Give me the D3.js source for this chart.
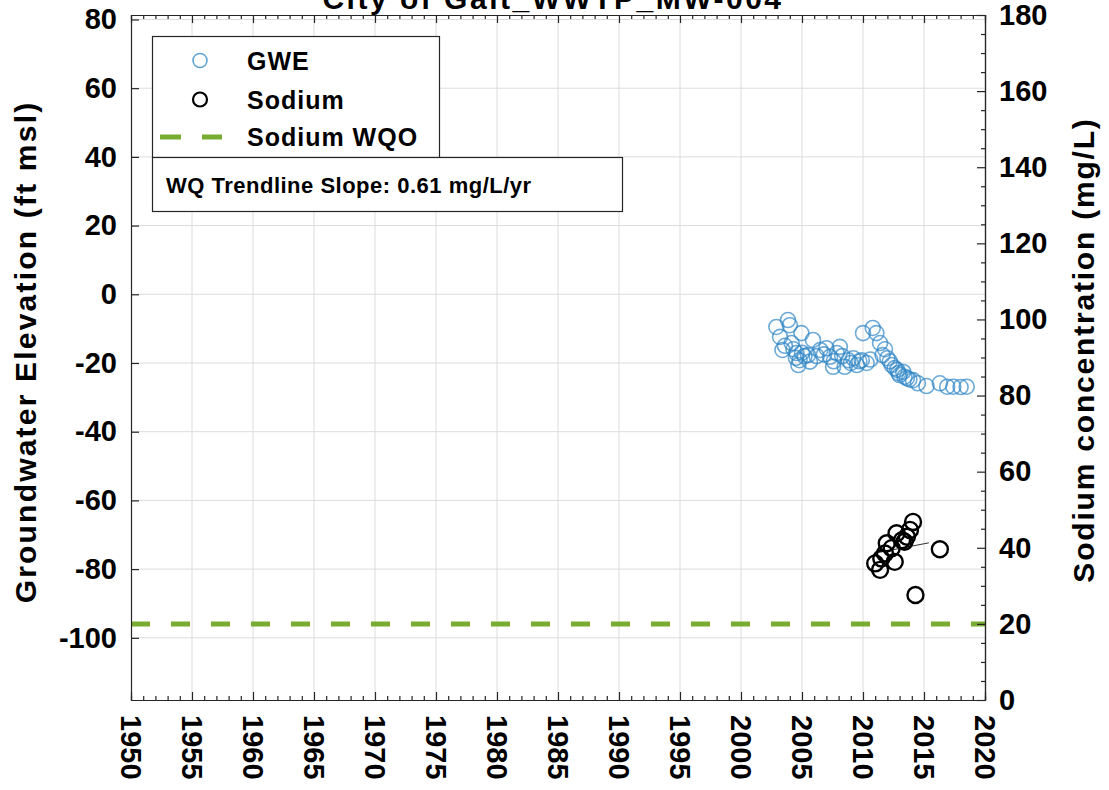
<!DOCTYPE html>
<html>
<head>
<meta charset="utf-8">
<script src="https://cdn.jsdelivr.net/npm/d3@7"></script>
<style>
  body { margin: 0; background: #fff; }
  svg { font-family: "Liberation Sans", Arial, sans-serif; font-weight: bold; }
</style>
</head>
<body>
<div id="chart"></div>
<script>
// GWE (ft msl): decimal year, elevation
const gweYears = [2002.9, 2003.2, 2003.4, 2003.6, 2003.85, 2004.0, 2004.15, 2004.3, 2004.5, 2004.55,
  2004.7, 2004.8, 2004.95, 2005.0, 2005.2, 2005.5, 2005.65, 2005.9, 2006.2, 2006.5,
  2006.8, 2007.0, 2007.3, 2007.55, 2007.6, 2007.85, 2008.1, 2008.3, 2008.5, 2008.8,
  2009.0, 2009.2, 2009.5, 2009.7, 2009.9, 2010.0, 2010.3, 2010.6, 2010.8, 2011.1,
  2011.4, 2011.6, 2011.8, 2012.0, 2012.2, 2012.35, 2012.6, 2012.8, 2012.9, 2013.0,
  2013.3, 2013.4, 2013.6, 2013.8, 2014.1, 2014.5, 2015.2, 2016.3, 2016.9, 2017.4,
  2018.0, 2018.5];
const gweValues = [-9.5, -12.4, -16.2, -15.0, -7.5, -9.0, -14.2, -16.0, -18.5, -17.1,
  -20.6, -19.2, -11.3, -17.0, -18.0, -17.7, -19.6, -13.3, -18.0, -16.2,
  -17.5, -15.7, -18.2, -21.1, -19.5, -17.1, -15.3, -18.0, -21.1, -19.2,
  -20.0, -18.6, -20.6, -19.5, -19.2, -11.3, -20.0, -19.0, -9.8, -11.3,
  -14.2, -17.7, -16.0, -18.6, -19.5, -20.6, -21.5, -22.0, -22.9, -23.5,
  -22.6, -24.0, -24.4, -24.8, -25.0, -25.9, -26.7, -25.9, -26.9, -26.9,
  -27.0, -26.9];

// Sodium (mg/L)
const naYears = [2011.0, 2011.4, 2011.5, 2011.8, 2011.95, 2012.35, 2012.6, 2012.75, 2013.2, 2013.4,
  2013.6, 2013.85, 2014.1, 2014.3, 2016.3];
const naValues = [35.9, 34.2, 37.2, 38.5, 41.2, 39.9, 36.3, 43.8, 42.0, 41.6,
  42.9, 44.7, 46.8, 27.6, 39.6];

const trendYears = [2011.0, 2015.4];
const trendValues = [38.6, 41.3];

const wqoValue = 20;

const xTicks = d3.range(1950, 2021, 5);
const leftTicks = d3.range(-100, 81, 20);
const rightTicks = d3.range(0, 181, 20);

const width = 1109, height = 790;
const plot = { left: 131, right: 985, top: 15, bottom: 700 };

const svg = d3.select("#chart").append("svg")
  .attr("width", width)
  .attr("height", height);

const x = d3.scaleLinear().domain([1950, 2020]).range([plot.left, plot.right]);
const yL = d3.scaleLinear().domain([-118.1, 81.3]).range([plot.bottom, plot.top]);
const yR = d3.scaleLinear().domain([0, 180]).range([plot.bottom, plot.top]);

// grid
const grid = svg.append("g").attr("stroke", "#dcdcdc").attr("stroke-width", 1);
grid.selectAll(".vg").data(xTicks.slice(1, -1)).join("line")
  .attr("x1", d => x(d)).attr("x2", d => x(d))
  .attr("y1", plot.top).attr("y2", plot.bottom);
grid.selectAll(".hg").data(leftTicks).join("line")
  .attr("x1", plot.left).attr("x2", plot.right)
  .attr("y1", d => yL(d)).attr("y2", d => yL(d));

// title, mostly cut off at the top edge like the source figure
svg.append("text")
  .attr("x", 553).attr("y", 9)
  .attr("text-anchor", "middle")
  .style("font-size", "30px")
  .style("letter-spacing", "2.5px")
  .text("City of Galt_WWTP_MW-004");

// WQO line
svg.append("line")
  .attr("x1", plot.left).attr("x2", plot.right)
  .attr("y1", yR(wqoValue)).attr("y2", yR(wqoValue))
  .attr("stroke", "#77ac30")
  .attr("stroke-width", 5)
  .attr("stroke-dasharray", "19,21");

// GWE points
svg.append("g").selectAll("circle")
  .data(gweYears.map((d, i) => [d, gweValues[i]]))
  .join("circle")
  .attr("cx", d => x(d[0]))
  .attr("cy", d => yL(d[1]))
  .attr("r", 7.5)
  .attr("fill", "none")
  .attr("stroke", "#2f86c6")
  .attr("stroke-opacity", 0.7)
  .attr("stroke-width", 1.6);

// sodium trendline
svg.append("line")
  .attr("x1", x(trendYears[0])).attr("x2", x(trendYears[1]))
  .attr("y1", yR(trendValues[0])).attr("y2", yR(trendValues[1]))
  .attr("stroke", "#333")
  .attr("stroke-width", 1);

// sodium points
svg.append("g").selectAll("circle")
  .data(naYears.map((d, i) => [d, naValues[i]]))
  .join("circle")
  .attr("cx", d => x(d[0]))
  .attr("cy", d => yR(d[1]))
  .attr("r", 8)
  .attr("fill", "none")
  .attr("stroke", "#000")
  .attr("stroke-width", 2.4);

// axes
function styleAxis(g) {
  g.attr("font-family", null).attr("font-size", null);
  g.select(".domain").attr("stroke", "#262626").attr("stroke-width", 1.2);
  g.selectAll(".tick line").attr("stroke", "#262626").attr("stroke-width", 1.2);
  g.selectAll("text").style("font-size", "29px").attr("fill", "#000");
}

const plain = d => String(d);  // hyphen minus, like the source
const minorYears = d3.range(1950, 2021, 1).filter(d => d % 5 !== 0);
const minorRight = d3.range(0, 181, 5).filter(d => d % 20 !== 0);

svg.append("g")
  .attr("transform", `translate(0,${plot.bottom})`)
  .call(d3.axisBottom(x).tickValues(minorYears).tickSize(-4).tickFormat(""))
  .call(styleAxis);
svg.append("g")
  .attr("transform", `translate(0,${plot.top})`)
  .call(d3.axisTop(x).tickValues(minorYears).tickSize(-4).tickFormat(""))
  .call(styleAxis);
svg.append("g")
  .attr("transform", `translate(0,${plot.top})`)
  .call(d3.axisTop(x).tickValues(xTicks).tickSize(-8).tickSizeOuter(0).tickFormat(""))
  .call(styleAxis);

svg.append("g")
  .attr("transform", `translate(0,${plot.bottom})`)
  .call(d3.axisBottom(x).tickValues(xTicks).tickSize(-8).tickSizeOuter(0).tickFormat(plain))
  .call(styleAxis)
  .call(g => g.selectAll(".tick text")
    .attr("x", 15).attr("y", 0).attr("dy", "0.36em")
    .attr("transform", "rotate(90)")
    .style("text-anchor", "start"));

svg.append("g")
  .attr("transform", `translate(${plot.left},0)`)
  .call(d3.axisLeft(yL).tickValues(leftTicks).tickSize(-8).tickSizeOuter(0).tickPadding(14).tickFormat(plain))
  .call(styleAxis);

svg.append("g")
  .attr("transform", `translate(${plot.right},0)`)
  .call(d3.axisRight(yR).tickValues(minorRight).tickSize(-4).tickFormat(""))
  .call(styleAxis);
svg.append("g")
  .attr("transform", `translate(${plot.right},0)`)
  .call(d3.axisRight(yR).tickValues(rightTicks).tickSize(-8).tickSizeOuter(0).tickPadding(14).tickFormat(plain))
  .call(styleAxis);

// axis titles
svg.append("text")
  .attr("transform", `translate(36,352) rotate(-90)`)
  .attr("text-anchor", "middle")
  .style("font-size", "30px")
  .style("letter-spacing", "2.2px")
  .text("Groundwater Elevation (ft msl)");

svg.append("text")
  .attr("transform", `translate(1094,350) rotate(-90)`)
  .attr("text-anchor", "middle")
  .style("font-size", "30px")
  .style("letter-spacing", "1.8px")
  .text("Sodium concentration (mg/L)");

// legend
const legend = svg.append("g");
legend.append("rect")
  .attr("x", 152.5).attr("y", 36.5).attr("width", 287).attr("height", 121)
  .attr("fill", "#fff").attr("stroke", "#262626").attr("stroke-width", 1.2);

const legendItems = ["GWE", "Sodium", "Sodium WQO"];
const legendY = [60.5, 99.5, 137];
legend.append("circle").attr("cx", 200).attr("cy", legendY[0]).attr("r", 7)
  .attr("fill", "none").attr("stroke", "#2f86c6").attr("stroke-opacity", 0.75).attr("stroke-width", 1.6);
legend.append("circle").attr("cx", 200).attr("cy", legendY[1]).attr("r", 7)
  .attr("fill", "none").attr("stroke", "#000").attr("stroke-width", 2.2);
legend.append("line")
  .attr("x1", 160).attr("x2", 222).attr("y1", legendY[2]).attr("y2", legendY[2])
  .attr("stroke", "#77ac30").attr("stroke-width", 5).attr("stroke-dasharray", "21,21");
legend.selectAll("text").data(legendItems).join("text")
  .attr("x", 247)
  .attr("y", (d, i) => legendY[i] + 9)
  .style("font-size", "25px")
  .style("letter-spacing", "1px")
  .text(d => d);

svg.append("rect")
  .attr("x", 152.5).attr("y", 157.5).attr("width", 470).attr("height", 54)
  .attr("fill", "#fff").attr("stroke", "#262626").attr("stroke-width", 1.2);
svg.append("text")
  .attr("x", 166).attr("y", 193)
  .style("font-size", "22px")
  .style("letter-spacing", "0.5px")
  .text("WQ Trendline Slope: 0.61 mg/L/yr");
</script>
</body>
</html>
